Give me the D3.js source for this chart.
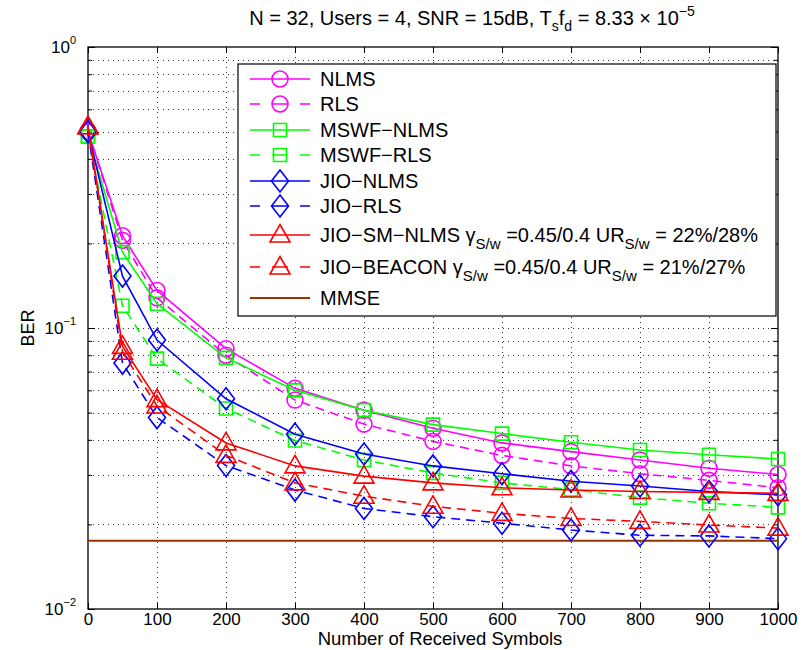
<!DOCTYPE html>
<html>
<head>
<meta charset="utf-8">
<script src="https://cdn.jsdelivr.net/npm/d3@7"></script>
<style>
  html, body { margin: 0; padding: 0; background: #fff; }
  svg { display: block; font-family: "Liberation Sans", Arial, Helvetica, sans-serif; }
</style>
</head>
<body>
<svg id="chart" width="802" height="650"></svg>
<script>
// ---------------- DATA ----------------
const symbols = [0, 50, 100, 200, 300, 400, 500, 600, 700, 800, 900, 1000];
const nlms      = [0.50, 0.213, 0.136, 0.0844, 0.061, 0.051, 0.044, 0.039, 0.0363, 0.0339, 0.0317, 0.0301];
const rls       = [0.50, 0.205, 0.128, 0.080, 0.0554, 0.0455, 0.0395, 0.0352, 0.0323, 0.0303, 0.0287, 0.027];
const mswfNlms  = [0.48, 0.186, 0.122, 0.0783, 0.060, 0.051, 0.0453, 0.0421, 0.0392, 0.0368, 0.0354, 0.0342];
const mswfRls   = [0.48, 0.120, 0.0778, 0.0517, 0.0398, 0.0339, 0.0305, 0.0281, 0.0266, 0.0249, 0.0238, 0.023];
const jioNlms   = [0.50, 0.153, 0.0906, 0.056, 0.0419, 0.0356, 0.0323, 0.0303, 0.0285, 0.0274, 0.0262, 0.0255];
const jioRls    = [0.50, 0.075, 0.048, 0.0324, 0.0265, 0.0228, 0.0213, 0.0202, 0.0191, 0.0183, 0.0182, 0.0178];
const jioSmNlms = [0.52, 0.086, 0.0556, 0.039, 0.0323, 0.0297, 0.0281, 0.027, 0.0265, 0.0262, 0.026, 0.0258];
const jioBeacon = [0.52, 0.082, 0.0528, 0.0352, 0.0281, 0.0252, 0.0232, 0.0219, 0.021, 0.0205, 0.0199, 0.0194];
const mmse      = [0.0175, 0.0175];
const mmseX     = [0, 1000];
const xTicks = [0, 100, 200, 300, 400, 500, 600, 700, 800, 900, 1000];
const yDecades = [1e-2, 1e-1, 1e0];
const yTickExp = ["−2", "−1", "0"];

const seriesList = [
  {name: "NLMS", values: nlms, color: "#ff00ff", dash: false, marker: "circle"},
  {name: "RLS", values: rls, color: "#ff00ff", dash: true, marker: "circle"},
  {name: "MSWF−NLMS", values: mswfNlms, color: "#00ff00", dash: false, marker: "square"},
  {name: "MSWF−RLS", values: mswfRls, color: "#00ff00", dash: true, marker: "square"},
  {name: "JIO−NLMS", values: jioNlms, color: "#0000ff", dash: false, marker: "diamond"},
  {name: "JIO−RLS", values: jioRls, color: "#0000ff", dash: true, marker: "diamond"},
  {name: "JIO−SM−NLMS", values: jioSmNlms, color: "#ff0000", dash: false, marker: "triangle",
   extra: ["0.45/0.4", "22%/28%"]},
  {name: "JIO−BEACON", values: jioBeacon, color: "#ff0000", dash: true, marker: "triangle",
   extra: ["0.45/0.4", "21%/27%"]},
];

// ---------------- LAYOUT ----------------
const W = 802, H = 650;
const margin = {left: 88, right: 24, top: 47, bottom: 41};
const pw = W - margin.left - margin.right;
const ph = H - margin.top - margin.bottom;

const svg = d3.select("#chart");
const g = svg.append("g").attr("transform", `translate(${margin.left},${margin.top})`);

const x = d3.scaleLinear().domain([0, 1000]).range([0, pw]);
const y = d3.scaleLog().domain([1e-2, 1]).range([ph, 0]);

// grid
const minorY = [];
for (let d = -2; d < 0; d++) for (let k = 2; k <= 9; k++) minorY.push(k * Math.pow(10, d));
const gridStyle = sel => sel.attr("stroke", "#000").attr("stroke-width", 0.8)
  .attr("stroke-dasharray", "1,4").attr("shape-rendering", "crispEdges");
g.append("g").selectAll("line").data(minorY.concat([0.1])).join("line")
  .attr("x1", 0).attr("x2", pw).attr("y1", d => Math.round(y(d)) + 0.5).attr("y2", d => Math.round(y(d)) + 0.5)
  .call(gridStyle);
g.append("g").selectAll("line").data(xTicks.slice(1, -1)).join("line")
  .attr("y1", 0).attr("y2", ph).attr("x1", d => Math.round(x(d)) + 0.5).attr("x2", d => Math.round(x(d)) + 0.5)
  .call(gridStyle);

// axes with inward ticks (MATLAB style)
const xAxisB = d3.axisBottom(x).tickValues(xTicks).tickSize(-6).tickPadding(5).tickFormat(d3.format("d"));
const xAxisT = d3.axisTop(x).tickValues(xTicks).tickSize(-6).tickFormat("");
const gxB = g.append("g").attr("transform", `translate(0,${ph})`).call(xAxisB);
const gxT = g.append("g").call(xAxisT);
const yAxisL = d3.axisLeft(y).tickValues(yDecades).tickSize(-7).tickFormat("");
const yAxisR = d3.axisRight(y).tickValues(yDecades).tickSize(-7).tickFormat("");
const yMinL = d3.axisLeft(y).tickValues(minorY).tickSize(-4).tickFormat("");
const yMinR = d3.axisRight(y).tickValues(minorY).tickSize(-4).tickFormat("");
g.append("g").call(yAxisL);
g.append("g").call(yMinL);
g.append("g").attr("transform", `translate(${pw},0)`).call(yAxisR);
g.append("g").attr("transform", `translate(${pw},0)`).call(yMinR);
g.selectAll(".domain").remove();
g.selectAll(".tick line").attr("stroke", "#000").attr("stroke-width", 1);
gxB.selectAll(".tick text").attr("font-size", 17).attr("fill", "#000").attr("dy", null).attr("y", 16)
  .attr("font-family", "'Liberation Sans', Arial, sans-serif");

// box
g.append("rect").attr("x", 0).attr("y", 0).attr("width", pw).attr("height", ph)
  .attr("fill", "none").attr("stroke", "#000").attr("stroke-width", 1.3);

// y tick labels 10^k
const ylab = g.append("g");
yDecades.forEach((d, i) => {
  const t = ylab.append("text").attr("x", -12).attr("y", y(d) + 6).attr("text-anchor", "end")
    .attr("font-size", 17).attr("fill", "#000");
  t.append("tspan").text("10");
  t.append("tspan").attr("font-size", 11).attr("dy", -9).text(yTickExp[i]);
});

// ---------------- MARKERS ----------------
function markerPath(type) {
  switch (type) {
    case "circle": return d3.symbol().type(d3.symbolCircle).size(Math.PI * 8 * 8)();
    case "square": return "M-6.5,-6.5H6.5V6.5H-6.5Z";
    case "diamond": return "M0,-11L8.5,0L0,11L-8.5,0Z";
    case "triangle": return "M0,-10.5L10,7L-10,7Z";
  }
}

const line = d3.line().x((d, i) => x(symbols[i])).y(d => y(d));

// MMSE line
g.append("path").datum(mmse)
  .attr("d", d3.line().x((d, i) => x(mmseX[i])).y(d => y(d)))
  .attr("fill", "none").attr("stroke", "#993300").attr("stroke-width", 2);

seriesList.forEach(s => {
  g.append("path").datum(s.values).attr("d", line)
    .attr("fill", "none").attr("stroke", s.color).attr("stroke-width", 1.6)
    .attr("stroke-dasharray", s.dash ? "9,6" : null);
  g.append("g").selectAll("path").data(s.values).join("path")
    .attr("transform", (d, i) => `translate(${x(symbols[i])},${y(d)})`)
    .attr("d", markerPath(s.marker))
    .attr("fill", "none").attr("stroke", s.color).attr("stroke-width", 1.6);
});

// ---------------- LEGEND ----------------
const lg = svg.append("g");
const lgX = 238, lgY = 64, lgW = 538, lgH = 252;
lg.append("rect").attr("x", lgX).attr("y", lgY).attr("width", lgW).attr("height", lgH)
  .attr("fill", "#fff").attr("stroke", "#000").attr("stroke-width", 1.2);
const rowY = [79, 104, 130, 155, 181, 206, 235, 267, 298];
const sx1 = 250, sx2 = 310, smx = 280, tx = 320;
const lfs = 20;
seriesList.forEach((s, i) => {
  const yy = rowY[i];
  lg.append("line").attr("x1", sx1).attr("x2", sx2).attr("y1", yy).attr("y2", yy)
    .attr("stroke", s.color).attr("stroke-width", 1.6)
    .attr("stroke-dasharray", s.dash ? "10,12,16,12,10" : null);
  lg.append("path").attr("transform", `translate(${smx},${yy})`).attr("d", markerPath(s.marker))
    .attr("fill", "none").attr("stroke", s.color).attr("stroke-width", 1.6);
  const t = lg.append("text").attr("x", tx).attr("y", yy + 7).attr("font-size", lfs).attr("fill", "#000");
  t.append("tspan").text(s.name);
  if (s.extra) {
    t.append("tspan").text(" γ");
    t.append("tspan").attr("font-size", 15).attr("dy", 7).text("S/w");
    t.append("tspan").attr("dy", -7).text(" =" + s.extra[0] + " UR");
    t.append("tspan").attr("font-size", 15).attr("dy", 7).text("S/w");
    t.append("tspan").attr("dy", -7).text(" = " + s.extra[1]);
  }
});
// MMSE legend entry
lg.append("line").attr("x1", sx1).attr("x2", sx2).attr("y1", rowY[8]).attr("y2", rowY[8])
  .attr("stroke", "#993300").attr("stroke-width", 2);
lg.append("text").attr("x", tx).attr("y", rowY[8] + 7).attr("font-size", lfs).attr("fill", "#000").text("MMSE");

// ---------------- TITLES ----------------
const title = svg.append("text").attr("x", 472).attr("y", 25).attr("text-anchor", "middle")
  .attr("font-size", 20).attr("fill", "#000");
title.append("tspan").text("N = 32, Users = 4, SNR = 15dB, T");
title.append("tspan").attr("font-size", 14).attr("dy", 6).text("s");
title.append("tspan").attr("dy", -6).text("f");
title.append("tspan").attr("font-size", 14).attr("dy", 6).text("d");
title.append("tspan").attr("dy", -6).text(" = 8.33 × 10");
title.append("tspan").attr("font-size", 14).attr("dy", -9).text("−5");

svg.append("text").attr("x", 440).attr("y", 645).attr("text-anchor", "middle")
  .attr("font-size", 18.5).attr("fill", "#000").text("Number of Received Symbols");

svg.append("text").attr("transform", `translate(34,${margin.top + ph / 2}) rotate(-90)`)
  .attr("text-anchor", "middle").attr("font-size", 18).attr("fill", "#000").text("BER");
</script>
</body>
</html>
